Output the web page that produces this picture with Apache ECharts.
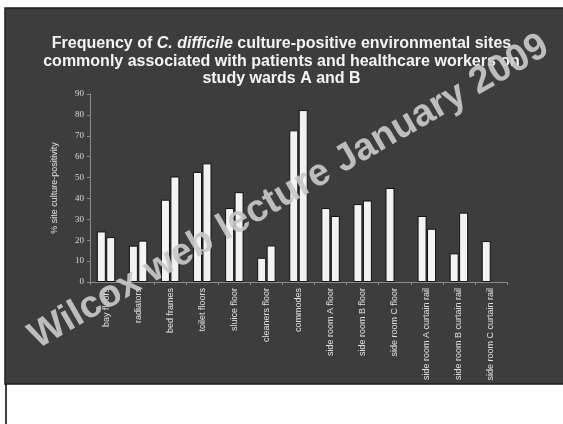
<!DOCTYPE html>
<html>
<head>
<meta charset="utf-8">
<script src="https://cdn.jsdelivr.net/npm/echarts@6/dist/echarts.min.js"></script>
<style>
  html, body { margin: 0; padding: 0; background: #ffffff; }
  #chart { width: 563px; height: 424px; }
</style>
</head>
<body>
<div id="chart"></div>
<script>
// Environmental sites sampled on the two study wards
var sites = [
  'bay floors', 'radiators', 'bed frames', 'toilet floors', 'sluice floor',
  'cleaners floor', 'commodes', 'side room A floor', 'side room B floor',
  'side room C floor', 'side room A curtain rail', 'side room B curtain rail',
  'side room C curtain rail'
];
// % culture-positive, first and second bar of each pair
var wardA = [24.2, 17.4, 39.4, 52.7, 35.4, 11.6, 72.6, 35.4, 37.3, 45.0, 31.6, 13.7, 19.6];
var wardB = [21.5, 19.8, 50.5, 56.8, 43.0, 17.5, 82.3, 31.6, 39.0, null, 25.5, 33.2, null];
var yTicks = { min: 0, max: 90, interval: 10 };

var chart = echarts.init(document.getElementById('chart'), null, { renderer: 'canvas' });

var barStyle = { color: '#f3f3f3', borderColor: '#111111', borderWidth: 1 };
var narrow = '"Liberation Sans Narrow", "Liberation Sans", Arial, sans-serif';

chart.setOption({
  backgroundColor: '#ffffff',
  animation: false,
  graphic: [
    { type: 'rect', z: -10, shape: { x: 5, y: 8, width: 560, height: 376 },
      style: { fill: '#3d3d3d', stroke: '#1e1e1e', lineWidth: 1.5 } },
    { type: 'line', z: -9, shape: { x1: 6, y1: 384, x2: 6, y2: 424 },
      style: { stroke: '#000000', lineWidth: 1.5 } },
    { type: 'text', z: 100, x: 289, y: 192, rotation: 30 * Math.PI / 180,
      style: { text: 'Wilcox web lecture January 2009', fill: 'rgba(200,200,200,0.92)',
        font: 'bold 38px "Liberation Sans", Arial, sans-serif',
        align: 'center', verticalAlign: 'middle' } }
  ],
  title: {
    text: '{n|Frequency of }{i|C. difficile}{n| culture-positive environmental sites}\n{n|commonly associated with patients and healthcare workers on}\n{n|study wards A and B}',
    left: 'center',
    top: 30,
    textStyle: {
      rich: {
        n: { color: '#f4f4f4', fontSize: 16, fontWeight: 'bold', fontFamily: '"Liberation Sans", Arial, sans-serif', lineHeight: 17.5 },
        i: { color: '#f4f4f4', fontSize: 16, fontWeight: 'bold', fontStyle: 'italic', fontFamily: '"Liberation Sans", Arial, sans-serif', lineHeight: 17.5 }
      }
    }
  },
  grid: { left: 90, right: 56, top: 94, bottom: 142, containLabel: false },
  xAxis: {
    type: 'category',
    data: sites,
    axisLine: { lineStyle: { color: '#8a8a8a', width: 1 } },
    axisTick: { show: true, length: 3, lineStyle: { color: '#8a8a8a' } },
    axisLabel: {
      rotate: 90, interval: 0, margin: 6, color: '#e2e2e2',
      fontSize: 9, fontFamily: narrow
    }
  },
  yAxis: {
    type: 'value',
    min: yTicks.min, max: yTicks.max, interval: yTicks.interval,
    name: '% site culture-positivity',
    nameLocation: 'middle',
    nameGap: 31,
    nameRotate: 90,
    nameTextStyle: { color: '#e2e2e2', fontSize: 9, fontFamily: narrow },
    axisLine: { show: true, lineStyle: { color: '#8a8a8a', width: 1 } },
    axisTick: { show: true, length: 3, lineStyle: { color: '#8a8a8a' } },
    axisLabel: { color: '#d8d8d8', fontSize: 9, margin: 6, fontFamily: '"Liberation Serif", "Times New Roman", serif' },
    splitLine: { show: false }
  },
  series: [
    { type: 'bar', data: wardA, itemStyle: barStyle, barWidth: 9, barGap: '5%' },
    { type: 'bar', data: wardB, itemStyle: barStyle, barWidth: 9, barGap: '5%' }
  ]
});
</script>
</body>
</html>
